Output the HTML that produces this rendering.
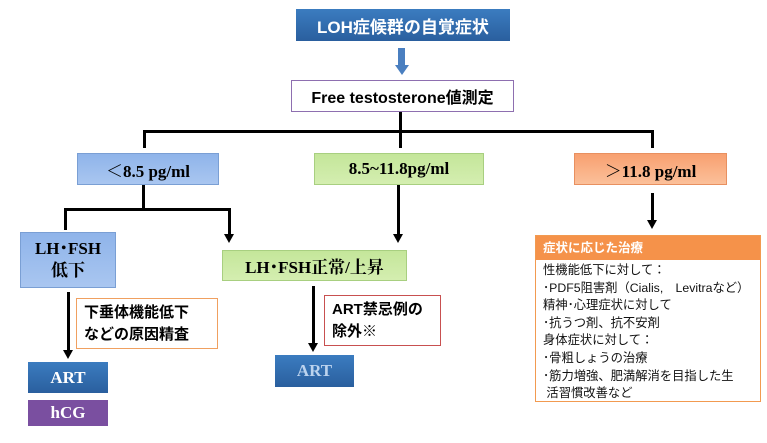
<!DOCTYPE html>
<html><head><meta charset="utf-8"><style>
body{margin:0;width:767px;height:443px;background:#fff;position:relative;overflow:hidden;font-family:"Liberation Sans","Noto Sans CJK JP",sans-serif}
.b{position:absolute;box-sizing:border-box;display:flex;align-items:center;justify-content:center;text-align:center;font-weight:bold}
.l{position:absolute;background:#000}
.ser{font-family:"Liberation Serif","Noto Serif CJK SC",serif}
.ah{position:absolute;width:0;height:0;border-left:5px solid transparent;border-right:5px solid transparent;border-top:9px solid #000}
</style></head><body>
<div class="b" style="left:296px;top:9px;width:214px;height:32px;background:linear-gradient(#3b7cc0,#2a5f9e);color:#fff;font-size:17px">LOH症候群の自覚症状</div>
<div style="position:absolute;left:398px;top:48px;width:7px;height:18px;background:#4a7fc0"></div>
<div style="position:absolute;left:395px;top:65px;border-left:7px solid transparent;border-right:7px solid transparent;border-top:10px solid #4a7fc0"></div>
<div class="b" style="left:291px;top:80px;width:223px;height:32px;border:1.5px solid #8e6fb0;font-size:16px">Free testosterone値測定</div>
<div class="l" style="left:399px;top:112px;width:3px;height:36px"></div>
<div class="l" style="left:143px;top:130px;width:511px;height:3px"></div>
<div class="l" style="left:143px;top:130px;width:3px;height:18px"></div>
<div class="l" style="left:651px;top:130px;width:3px;height:18px"></div>
<div class="b ser" style="left:77px;top:153px;width:142px;height:32px;background:linear-gradient(#8fb4ea,#a9c6f0);border:1px solid #7a9fd4;font-size:17px">＜8.5 pg/ml</div>
<div class="b ser" style="left:314px;top:153px;width:170px;height:32px;background:linear-gradient(#c4e69a,#d4eeb0);border:1px solid #a8cf80;font-size:17px">8.5~11.8pg/ml</div>
<div class="b ser" style="left:574px;top:153px;width:153px;height:32px;background:linear-gradient(#f8a070,#fbc09a);border:1px solid #e89060;font-size:17px">＞11.8 pg/ml</div>
<div class="l" style="left:142px;top:185px;width:3px;height:24px"></div>
<div class="l" style="left:64px;top:208px;width:166px;height:3px"></div>
<div class="l" style="left:64px;top:208px;width:3px;height:22px"></div>
<div class="l" style="left:228px;top:208px;width:3px;height:28px"></div>
<div class="ah" style="left:224px;top:234px"></div>
<div class="l" style="left:397px;top:185px;width:3px;height:50px"></div>
<div class="ah" style="left:393px;top:234px"></div>
<div class="l" style="left:651px;top:193px;width:3px;height:28px"></div>
<div class="ah" style="left:647px;top:220px"></div>
<div class="b ser" style="left:20px;top:232px;width:96px;height:56px;background:linear-gradient(#8fb4ea,#a9c6f0);border:1px solid #7a9fd4;font-size:17px;line-height:22px">LH･FSH<br>低下</div>
<div class="b ser" style="left:222px;top:250px;width:185px;height:31px;background:linear-gradient(#c4e69a,#d4eeb0);border:1px solid #a8cf80;font-size:17px">LH･FSH正常/上昇</div>
<div class="l" style="left:67px;top:292px;width:3px;height:60px"></div>
<div class="ah" style="left:63px;top:350px"></div>
<div class="b" style="left:76px;top:298px;width:142px;height:51px;border:1.5px solid #f0a060;font-size:15px;line-height:22px;justify-content:flex-start;padding-left:7px;text-align:left">下垂体機能低下<br>などの原因精査</div>
<div class="b ser" style="left:28px;top:362px;width:80px;height:31px;background:linear-gradient(#3b7cc0,#2a5f9e);color:#fff;font-size:17px">ART</div>
<div class="b ser" style="left:28px;top:400px;width:80px;height:26px;background:#7a4fa0;color:#fff;font-size:17px">hCG</div>
<div class="l" style="left:312px;top:286px;width:3px;height:58px"></div>
<div class="ah" style="left:308px;top:343px"></div>
<div class="b" style="left:324px;top:295px;width:117px;height:51px;border:1.5px solid #c85050;font-size:15px;line-height:22px;justify-content:flex-start;padding-left:7px;text-align:left">ART禁忌例の<br>除外※</div>
<div class="b ser" style="left:275px;top:355px;width:79px;height:32px;background:linear-gradient(#3b7cc0,#2a5f9e);color:#bcd3ee;font-size:17px">ART</div>
<div style="position:absolute;left:535px;top:235px;width:226px;height:167px;box-sizing:border-box;border:1.5px solid #f29a50">
<div style="background:#f5924a;color:#fff;font-weight:bold;font-size:12.5px;height:24px;line-height:24px;padding-left:7px">症状に応じた治療</div>
<div style="font-size:12.3px;line-height:17.6px;padding:2px 0 0 7px;color:#111;white-space:nowrap">性機能低下に対して：<br>･PDF5阻害剤（Cialis,　Levitraなど）<br>精神･心理症状に対して<br>･抗うつ剤、抗不安剤<br>身体症状に対して：<br>･骨粗しょうの治療<br>･筋力増強、肥満解消を目指した生<br>&nbsp;活習慣改善など</div>
</div>
</body></html>
